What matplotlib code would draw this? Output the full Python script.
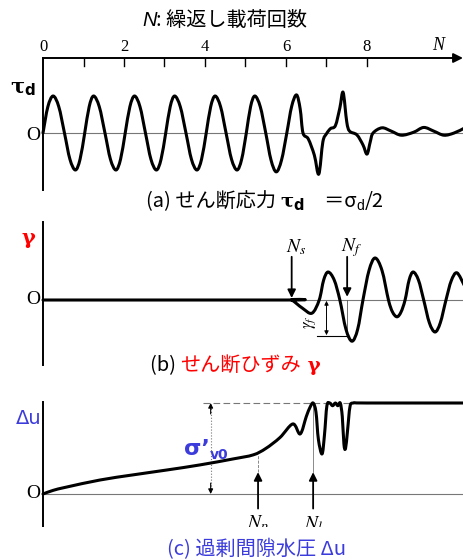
import numpy as np
import matplotlib.pyplot as plt
from matplotlib.path import Path
from matplotlib.patches import PathPatch

plt.rcParams['font.family'] = ['Noto Sans CJK JP', 'DejaVu Sans']
plt.rcParams['mathtext.fontset'] = 'stix'

# (a) shear stress tau_d vs number of cycles N
n_tau = [0, 0.12, 0.25, 0.39, 0.53, 0.665, 0.80, 0.915,
         1.03, 1.14, 1.25, 1.39, 1.53, 1.665, 1.80, 1.915,
         2.03, 2.145, 2.26, 2.395, 2.53, 2.665, 2.80, 2.915,
         3.03, 3.14, 3.25, 3.39, 3.53, 3.665, 3.80, 3.915,
         4.03, 4.14, 4.25, 4.385, 4.52, 4.655, 4.79, 4.905,
         5.02, 5.125, 5.23, 5.365, 5.50, 5.63, 5.76, 5.89,
         6.02, 6.14, 6.26, 6.35, 6.42, 6.55, 6.70, 6.81, 6.91, 7.0,
         7.10, 7.22, 7.33, 7.41, 7.50, 7.57, 7.75, 7.90, 8.00, 8.08,
         8.15, 8.37, 8.60, 8.85, 9.15, 9.40, 9.65, 9.90, 10.15, 10.40]
tau = [0, 0.71, 1.0, 0.71, 0, -0.71, -1.0, -0.71,
       0, 0.71, 1.0, 0.71, 0, -0.71, -1.0, -0.71,
       0, 0.71, 1.0, 0.71, 0, -0.71, -1.0, -0.71,
       0, 0.71, 1.0, 0.71, 0, -0.71, -1.0, -0.71,
       0, 0.71, 1.0, 0.71, 0, -0.71, -1.0, -0.71,
       0, 0.71, 1.0, 0.71, 0, -0.73, -1.05, -0.73,
       0, 0.72, 1.03, 0.65, 0, -0.16, -0.6, -1.11, -0.24, -0.02,
       0.12, 0.2, 0.68, 1.1, 0.3, 0.05, -0.05, -0.32, -0.57, -0.24,
       0.0, 0.14, 0.05, -0.06, 0.02, 0.15, 0.05, -0.06, 0.0, 0.13]

# (b) shear strain gamma
n_gam = [0, 6.0, 6.14, 6.40, 6.64, 6.82, 6.93, 7.04, 7.19, 7.33, 7.48, 7.63,
         7.77, 7.90, 8.05, 8.20, 8.37, 8.53, 8.63, 8.74, 8.84, 8.94, 9.04,
         9.14, 9.27, 9.40, 9.54, 9.68, 9.81, 9.95, 10.08, 10.22, 10.40]
gam = [0, 0, 0, -0.2, -0.33, 0, 0.5, 0.7, 0.5, 0, -0.73, -1.03,
       -0.73, 0, 0.74, 1.05, 0.74, 0, -0.3, -0.42, -0.3, 0, 0.5,
       0.7, 0.5, 0, -0.57, -0.8, -0.57, 0, 0.48, 0.68, 0.37]

# (c) excess pore water pressure, normalised by sigma'_v0
n_du = [0, 0.25, 0.59, 1.41, 2.22, 3.06, 3.88, 4.69, 5.19, 5.50, 5.85, 6.17,
        6.35, 6.50, 6.59, 6.67, 6.74, 6.80, 6.89, 6.95, 7.01, 7.08, 7.15, 7.22,
        7.28, 7.34, 7.39, 7.43, 7.47, 7.52, 7.58, 7.66, 8.0, 10.4]
du = [0, 0.04, 0.077, 0.154, 0.21, 0.264, 0.32, 0.385, 0.43, 0.5, 0.62, 0.77,
      0.66, 0.85, 0.95, 1.0, 0.9, 0.6, 0.44, 0.65, 0.97, 1.0, 0.97, 1.0,
      0.97, 1.0, 0.85, 0.55, 0.5, 0.7, 0.96, 1.0, 1.0, 1.0]

n_ticks = [1, 2, 3, 4, 5, 6, 7, 8]
tick_labels = ['0', '2', '4', '6', '8']
n_s, n_f, n_p, n_l = 6.14, 7.51, 5.31, 6.67

BLUE = '#3c3cdc'
RED = '#ff0000'
W, H = 464, 560
X0, PPX = 43, 40.5

fig = plt.figure(figsize=(W / 100, H / 100), dpi=100)
bg = fig.add_axes([0, 0, 1, 1])
bg.set_xlim(0, W)
bg.set_ylim(H, 0)
bg.axis('off')


def panel(top, bottom, zero, ppu):
    ax = fig.add_axes([0, (H - bottom) / H, 1, (bottom - top) / H])
    ax.set_xlim(-X0 / PPX, (W - X0) / PPX)
    ax.set_ylim((zero - bottom) / ppu, (zero - top) / ppu)
    ax.axis('off')
    return ax


def smooth(xs, ys):
    p = np.column_stack([xs, ys]).astype(float)
    verts, codes = [p[0]], [Path.MOVETO]
    for i in range(len(p) - 1):
        a = p[i - 1] if i > 0 else p[i]
        d = p[i + 2] if i + 2 < len(p) else p[i + 1]
        verts += [p[i] + (p[i + 1] - a) / 6, p[i + 1] - (d - p[i]) / 6, p[i + 1]]
        codes += [Path.CURVE4] * 3
    return Path(verts, codes)


def curve(ax, xs, ys):
    ax.add_patch(PathPatch(smooth(xs, ys), fill=False, lw=2.2, color='k',
                           capstyle='round', joinstyle='round', zorder=3))


def arrow(ax, tail, head, lw=1.3, ms=12, style='-|>'):
    ax.annotate('', xy=head, xytext=tail,
                arrowprops=dict(arrowstyle=style, color='k', lw=lw,
                                mutation_scale=ms, shrinkA=0, shrinkB=0))


def rich(x, y, pieces):
    r = fig.canvas.get_renderer()
    for s, kw in pieces:
        kw = dict(kw)
        dy = kw.pop('dy', 0)
        t = bg.text(x, y + dy, s, va='baseline', ha='left', **kw)
        x += t.get_window_extent(renderer=r).width


serif = dict(family='Liberation Serif', color='k')

# ---- panel (a)
axa = panel(35, 195, 133, 37)
top = (133 - 58) / 37
axa.plot([0, 0], [top, (133 - 190) / 37], color='k', lw=1.4)
arrow(axa, (0, top), (10.37, top), lw=1.4, ms=14)
for n in n_ticks:
    axa.plot([n, n], [top, top - 8 / 37], color='k', lw=1.0)
for i, lab in enumerate(tick_labels):
    axa.text(2 * i, top + 11 / 37, lab, ha='center', va='center', fontsize=12, **serif)
axa.text(9.75, top + 12 / 37, 'N', ha='center', va='center', fontsize=13,
         style='italic', **serif)
axa.plot([0, 10.4], [0, 0], color='#777777', lw=0.8)
curve(axa, n_tau, tau)

# ---- panel (b)
axb = panel(205, 370, 300, 40)
axb.plot([0, 0], [(300 - 222) / 40, (300 - 365) / 40], color='k', lw=1.4)
axb.plot([0, 10.4], [0, 0], color='#777777', lw=0.8)
curve(axb, n_gam, gam)
arrow(axb, (n_s, 1.08), (n_s, 0.05))
arrow(axb, (n_f, 1.08), (n_f, 0.08))
axb.plot([n_f, n_f], [0, -0.93], color='#555555', lw=0.6)
axb.text(n_s + 0.1, 1.32, r'$N_s$', ha='center', va='center', fontsize=14)
axb.text(n_f + 0.1, 1.32, r'$N_f$', ha='center', va='center', fontsize=14)
arrow(axb, (7.0, -0.45), (7.0, -0.02), lw=0.7, ms=6)
arrow(axb, (7.0, -0.45), (7.0, -0.88), lw=0.7, ms=6)
axb.plot([6.76, 7.5], [-0.9, -0.9], color='k', lw=0.8)
axb.text(6.58, -0.55, r'$\gamma_f$', ha='center', va='center', fontsize=12, rotation=90)

# ---- panel (c)
axc = panel(395, 527, 494, 91)
axc.plot([0, 0], [(494 - 402) / 91, (494 - 527) / 91], color='k', lw=1.4)
axc.plot([0, 10.4], [0, 0], color='#777777', lw=0.8)
axc.plot([3.95, 10.4], [1.0, 1.0], color='#777777', lw=0.8, ls=(0, (6, 3)))
curve(axc, n_du, du)
axc.plot([4.14, 4.14], [0.05, 0.95], color='#777777', lw=0.8, ls=':')
arrow(axc, (4.14, 0.88), (4.14, 1.0), lw=0.8, ms=7)
arrow(axc, (4.14, 0.12), (4.14, 0.0), lw=0.8, ms=7)
arrow(axc, (n_p, -0.16), (n_p, 0.24))
arrow(axc, (n_l, -0.16), (n_l, 0.24))
axc.plot([n_p, n_p], [0.24, 0.43], color='#777777', lw=0.6, ls='--')
axc.plot([n_l, n_l], [0.24, 1.0], color='#777777', lw=0.6)
axc.text(n_p, -0.21, r'$N_p$', ha='center', va='top', fontsize=14, clip_on=True)
axc.text(n_l, -0.21, r'$N_l$', ha='center', va='top', fontsize=14, clip_on=True)

# ---- axis labels / "O"
for y in (135, 300, 494):
    bg.text(33, y, 'O', ha='center', va='center', fontsize=14, **serif)
rich(10, 92, [('τ', dict(fontsize=15, family='DejaVu Serif', weight='bold')),
              ('d', dict(fontsize=11, family='DejaVu Sans', weight='bold', dy=3))])
bg.text(28, 238, 'γ', ha='center', va='center', fontsize=15, color=RED,
        family='DejaVu Serif', weight='bold')
bg.text(29, 418, 'Δu', ha='center', va='center', fontsize=14, color=BLUE,
        family='DejaVu Sans')
rich(184, 455, [('σ’', dict(fontsize=16, color=BLUE, family='DejaVu Sans', weight='bold')),
                ('v0', dict(fontsize=10, color=BLUE, family='DejaVu Sans', weight='bold', dy=4))])

# ---- title and captions
cjk = dict(fontsize=14.5, family=['Noto Sans CJK JP', 'DejaVu Sans'])
rich(142, 26, [('N', dict(fontsize=14.5, family='Liberation Sans', style='italic')),
               (': 繰返し載荷回数', cjk)])
rich(146, 207, [('(a) せん断応力 ', cjk),
                ('τ', dict(fontsize=14, family='DejaVu Serif', weight='bold')),
                ('d', dict(fontsize=10.5, family='DejaVu Sans', weight='bold', dy=3)),
                ('　＝σ', cjk),
                ('d', dict(fontsize=10, family='Liberation Sans', dy=3)),
                ('/2', cjk)])
rich(150, 371, [('(b) ', cjk),
                ('せん断ひずみ', dict(cjk, color=RED)),
                (' γ', dict(fontsize=14, color=RED, family='DejaVu Serif', weight='bold'))])
rich(167, 555, [('(c) 過剰間隙水圧 Δu', dict(cjk, color=BLUE))])

plt.savefig('out.png', dpi=100)
